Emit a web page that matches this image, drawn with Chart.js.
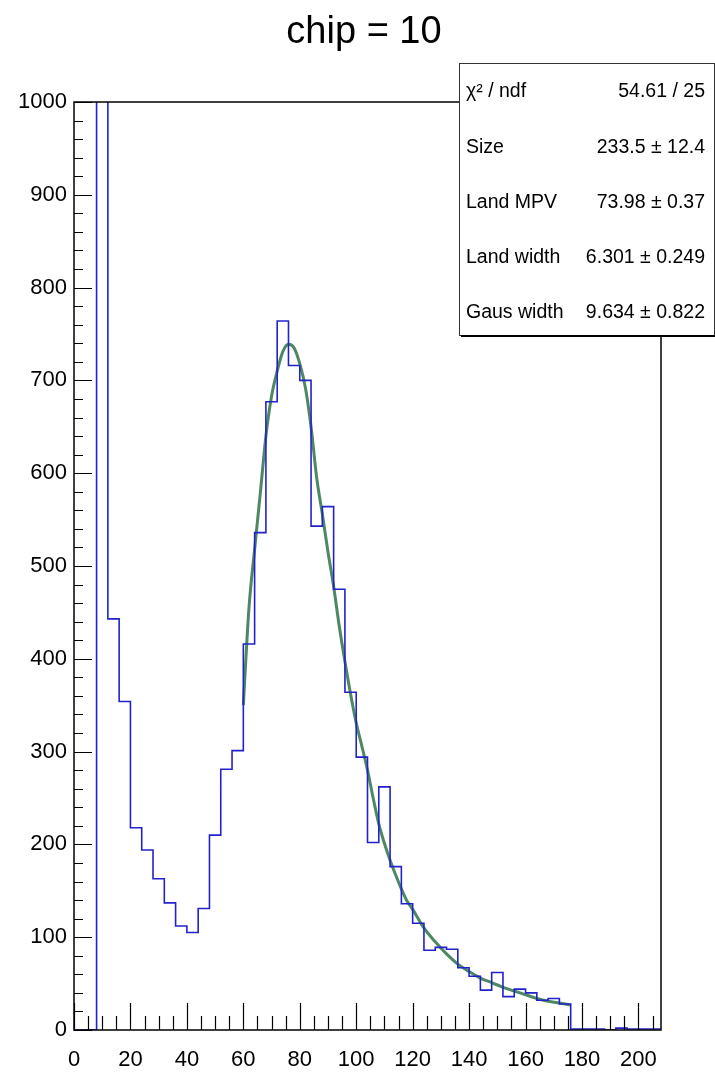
<!DOCTYPE html>
<html>
<head>
<meta charset="utf-8">
<script src="https://cdn.jsdelivr.net/npm/chart.js"></script>
<style>
  html, body { margin: 0; padding: 0; background: #fff; }
  canvas { display: block; }
</style>
</head>
<body>
<canvas id="chipChart" width="715" height="1073"></canvas>
<script>
// histogram: 4-unit bins starting at 0
const binWidth = 4;
const counts = [
  0, 0, 1450, 443, 354, 218, 194, 163, 137, 112, 105, 131, 210,
  281, 301, 416, 536, 677, 764, 716, 700, 543, 564, 475, 364,
  294, 202, 262, 176, 136, 115, 86, 89, 87, 67, 58, 43, 62,
  36, 44, 40, 32, 34, 28, 1, 1, 1, 0, 2, 1, 1, 1
];

// landau (x) gauss fit, sampled along the curve
const fitX = [60, 62, 64, 66, 68, 70, 72, 74, 76, 78, 80, 82, 84, 86, 88, 90, 92, 94, 96, 98,
  100, 102, 104, 106, 108, 110, 112, 114, 116, 118, 120, 124, 128, 132, 136, 140, 144, 148,
  152, 156, 160, 164, 168, 172, 176];
const fitY = [350, 455, 518, 578, 640, 683, 710, 731, 739, 735, 718, 692, 650, 595, 556, 515, 478, 435, 397, 362,
  331, 306, 280, 250, 222, 201, 183, 167, 152, 139, 130, 110, 95, 82, 71, 63, 56, 51,
  46, 42, 38, 34, 31, 29, 27];

const xTicks = [0, 20, 40, 60, 80, 100, 120, 140, 160, 180, 200];
const yTicks = [0, 100, 200, 300, 400, 500, 600, 700, 800, 900, 1000];

const titleText = 'chip = 10';
const statLabels = ['χ² / ndf', 'Size', 'Land MPV', 'Land width', 'Gaus width'];
const statValues = ['54.61 / 25', '233.5 ± 12.4', '73.98 ± 0.37', '6.301 ± 0.249', '9.634 ± 0.822'];

const FONT = '"Liberation Sans", Arial, Helvetica, sans-serif';

// one point per bin low edge, plus the closing upper edge
const histPoints = counts.map((c, i) => ({ x: i * binWidth, y: c }));
histPoints.push({ x: counts.length * binWidth, y: counts[counts.length - 1] });
const fitPoints = fitX.map((x, i) => ({ x: x, y: fitY[i] }));

// axes, frame, title and stats box in ROOT style
const rootFrame = {
  id: 'rootFrame',
  afterDraw(chart) {
    const ctx = chart.ctx;
    const a = chart.chartArea;
    const xs = chart.scales.x, ys = chart.scales.y;
    ctx.save();
    ctx.strokeStyle = '#000';
    ctx.lineWidth = 1.5;
    ctx.strokeRect(a.left, a.top, a.right - a.left, a.bottom - a.top);

    ctx.lineWidth = 1.2;
    ctx.beginPath();
    for (let v = 0; v <= xs.max; v += 5) {
      const px = Math.round(xs.getPixelForValue(v)) + 0.5;
      const len = v % 20 === 0 ? 27 : 14;
      ctx.moveTo(px, a.bottom);
      ctx.lineTo(px, a.bottom - len);
    }
    for (let v = 0; v <= ys.max; v += 20) {
      const py = Math.round(ys.getPixelForValue(v)) + 0.5;
      const len = v % 100 === 0 ? 18 : 9;
      ctx.moveTo(a.left, py);
      ctx.lineTo(a.left + len, py);
    }
    ctx.stroke();

    ctx.fillStyle = '#000';
    ctx.font = '22px ' + FONT;
    ctx.textAlign = 'center';
    ctx.textBaseline = 'alphabetic';
    xTicks.forEach(v => ctx.fillText(String(v), xs.getPixelForValue(v), 1066));
    ctx.textAlign = 'right';
    ctx.textBaseline = 'middle';
    yTicks.forEach(v => ctx.fillText(String(v), 67, ys.getPixelForValue(v)));

    ctx.font = '38px ' + FONT;
    ctx.textAlign = 'center';
    ctx.textBaseline = 'alphabetic';
    ctx.fillText(titleText, 364, 43);

    // stats box
    const bx = 459, by = 63, bw = 255, bh = 272;
    ctx.fillStyle = '#fff';
    ctx.fillRect(bx, by, bw, bh);
    ctx.strokeStyle = '#333';
    ctx.lineWidth = 1;
    ctx.strokeRect(bx + 0.5, by + 0.5, bw, bh);
    ctx.fillStyle = '#000';
    ctx.fillRect(bx + 2, by + bh, bw, 2);
    ctx.font = '19.5px ' + FONT;
    ctx.textBaseline = 'middle';
    statLabels.forEach((s, i) => {
      const cy = 92 + i * 55.2;
      ctx.textAlign = 'left';
      ctx.fillText(s, 466, cy);
      ctx.textAlign = 'right';
      ctx.fillText(statValues[i], 705, cy);
    });
    ctx.restore();
  }
};

new Chart(document.getElementById('chipChart').getContext('2d'), {
  type: 'line',
  data: {
    datasets: [{
      label: 'hist',
      data: histPoints,
      stepped: 'before',
      borderColor: '#2222cc',
      borderWidth: 1.6,
      pointRadius: 0,
      fill: false
    }, {
      label: 'fit',
      data: fitPoints,
      borderColor: '#4d8862',
      borderWidth: 3,
      cubicInterpolationMode: 'monotone',
      pointRadius: 0,
      fill: false
    }]
  },
  options: {
    responsive: false,
    animation: false,
    devicePixelRatio: 1,
    layout: { padding: { left: 74, right: 54, top: 102, bottom: 43 } },
    scales: {
      x: { type: 'linear', min: 0, max: 208, display: false },
      y: { type: 'linear', min: 0, max: 1000, display: false }
    },
    plugins: {
      legend: { display: false },
      tooltip: { enabled: false }
    }
  },
  plugins: [rootFrame]
});
</script>
</body>
</html>
